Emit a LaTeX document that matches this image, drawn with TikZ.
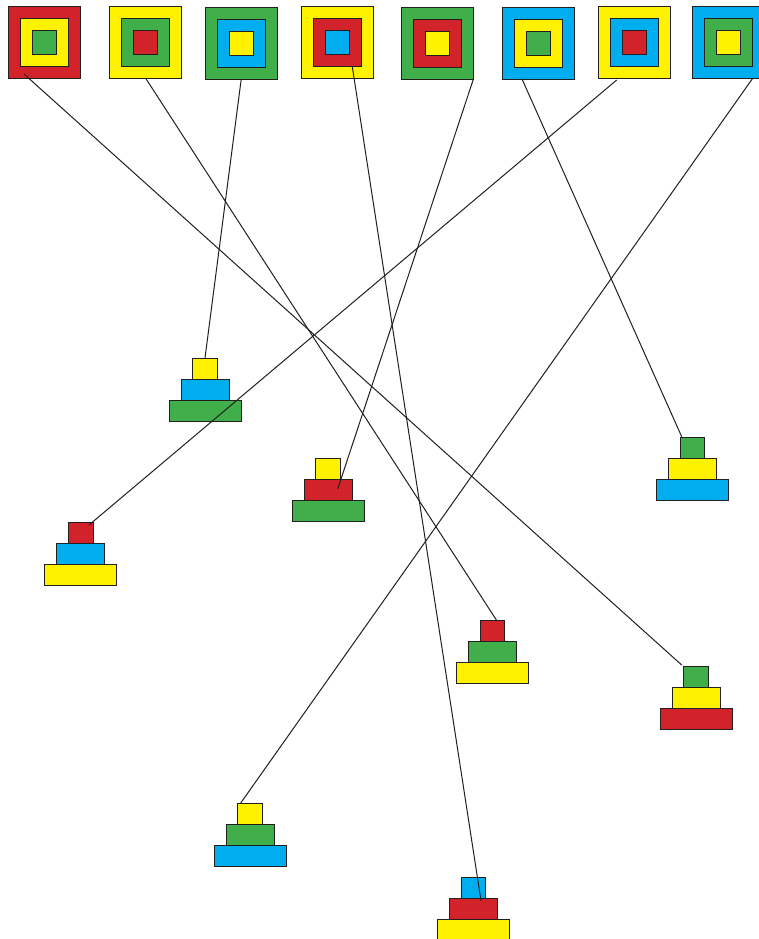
\documentclass[tikz,border=0pt]{standalone}
\usetikzlibrary{calc}
\definecolor{cred}{RGB}{210,35,42}
\definecolor{cyel}{RGB}{255,242,0}
\definecolor{cgrn}{RGB}{64,174,73}
\definecolor{cblu}{RGB}{0,174,239}
\definecolor{cline}{RGB}{35,31,32}
\tikzset{
  box/.style={draw=cline, line width=0.6pt, inner sep=0pt, outer sep=0pt, rectangle},
  sqbig/.style={box, minimum size=72pt},
  sqmid/.style={box, minimum size=48pt},
  sqsmall/.style={box, minimum size=24pt},
  tiertop/.style={box, minimum width=24.5pt, minimum height=21pt},
  tiermid/.style={box, minimum width=48pt, minimum height=21pt},
  tierbot/.style={box, minimum width=72pt, minimum height=21pt},
  link/.style={draw=cline, line width=1pt},
}
\newcommand\nestsq[5]{%
  \node[sqbig, fill=#3] (#1) at (#2) {};
  \node[sqmid, fill=#4] (#1m) at (#2) {};
  \node[sqsmall, fill=#5] (#1i) at (#2) {};
}
\newcommand\tower[6]{%
  \node[tiertop, anchor=north, fill=#4] (#1a) at (#2,#3) {};
  \node[tiermid, anchor=north, fill=#5] (#1b) at (#1a.south) {};
  \node[tierbot, anchor=north, fill=#6] (#1c) at (#1b.south) {};
}
\begin{document}
\begin{tikzpicture}[x=1pt,y=-1pt]
\useasboundingbox (0,0) rectangle (758,939);
\fill[white] (0,0) rectangle (758,939);
% squares
\nestsq{s1}{44.5,42.7}{cred}{cyel}{cgrn}
\nestsq{s2}{145.7,42.2}{cyel}{cgrn}{cred}
\nestsq{s3}{241.2,43.3}{cgrn}{cblu}{cyel}
\nestsq{s4}{336.9,42.7}{cyel}{cred}{cblu}
\nestsq{s5}{436.9,43.3}{cgrn}{cred}{cyel}
\nestsq{s6}{538,43.3}{cblu}{cyel}{cgrn}
\nestsq{s7}{634.3,42.7}{cyel}{cblu}{cred}
\nestsq{s8}{728.3,42}{cblu}{cgrn}{cyel}
% towers
\tower{t1}{205}{358}{cyel}{cblu}{cgrn}
\tower{t2}{328}{458.5}{cyel}{cred}{cgrn}
\tower{t3}{80.7}{522.7}{cred}{cblu}{cyel}
\tower{t4}{692.2}{437.3}{cgrn}{cyel}{cblu}
\tower{t5}{492.5}{620.3}{cred}{cgrn}{cyel}
\tower{t6}{696}{666}{cgrn}{cyel}{cred}
\tower{t7}{250}{803.3}{cyel}{cgrn}{cblu}
\tower{t8}{473.3}{877.3}{cblu}{cred}{cyel}
% connector ends
\coordinate (e1) at (24,74);
\coordinate (f1) at (681.7,665);
\coordinate (e2) at (145.7,78.3);
\coordinate (f2) at (496.7,620.5);
\coordinate (e4) at (352.3,66.7);
\coordinate (f4) at (481,900.7);
\coordinate (e5) at (473.5,78.7);
\coordinate (f5) at (337.7,489);
\coordinate (e6) at (522,79);
\coordinate (f6) at (681.7,436.7);
\coordinate (e7) at (616.7,80);
\coordinate (f7) at (89,525);
\coordinate (e8) at (752.7,78.3);
\coordinate (f8) at (240.7,803);
% connectors
\draw[link] (e1) -- (f1);
\draw[link] (e2) -- (f2);
\draw[link] (s3.south) -- (t1a.north);
\draw[link] (e4) -- (f4);
\draw[link] (e5) -- (f5);
\draw[link] (e6) -- (f6);
\draw[link] (e7) -- (f7);
\draw[link] (e8) -- (f8);
\end{tikzpicture}
\end{document}
